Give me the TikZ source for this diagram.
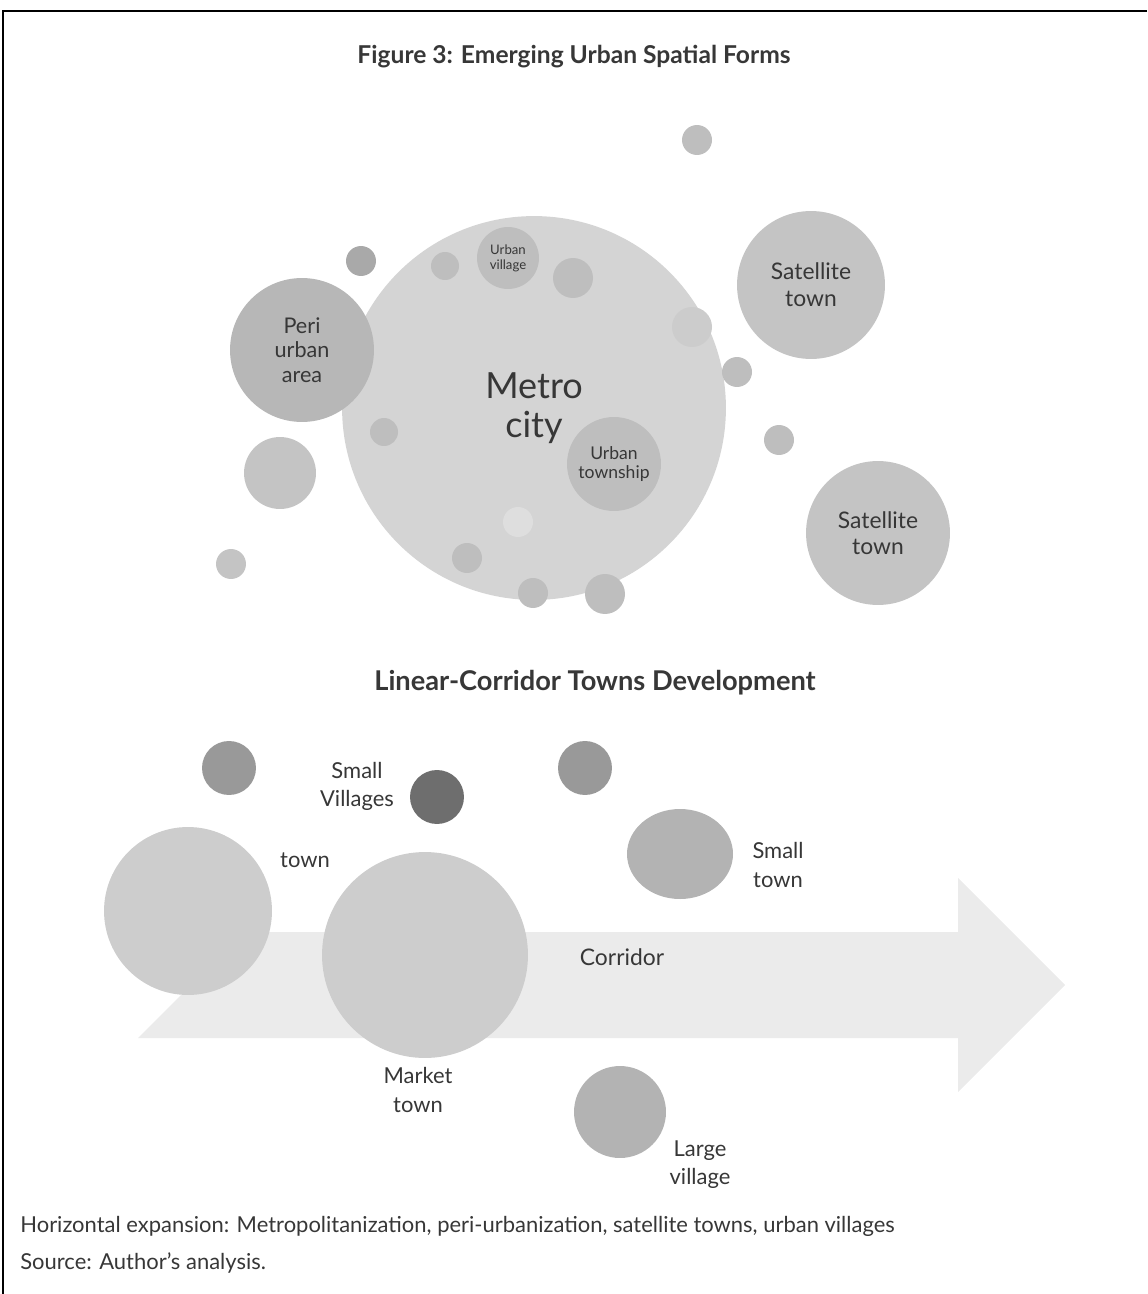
\documentclass[tikz,border=0pt]{standalone}
\usepackage{fontspec}
\setmainfont{Lato}
\usetikzlibrary{shapes.geometric}

\definecolor{txt}{RGB}{55,55,55}
\definecolor{metrogray}{RGB}{212,212,212}
\definecolor{perigray}{RGB}{183,183,183}
\definecolor{satgray}{RGB}{196,196,196}
\definecolor{midgray}{RGB}{190,190,190}
\definecolor{edgegray}{RGB}{204,204,204}
\definecolor{palegray}{RGB}{222,222,222}
\definecolor{darkgray}{RGB}{169,169,169}
\definecolor{corridorgray}{RGB}{235,235,235}
\definecolor{towngray}{RGB}{205,205,205}
\definecolor{villagegray}{RGB}{153,153,153}
\definecolor{deepgray}{RGB}{110,110,110}
\definecolor{smallgray}{RGB}{179,179,179}

\begin{document}
\begin{tikzpicture}[x=0.02cm, y=-0.02cm,
	blob/.style={circle, inner sep=0pt, minimum size=#1*0.04cm, text=txt, align=center},
	lbl/.style={text=txt, align=center, font=\fontsize{12.5}{16}\selectfont}]

		\useasboundingbox (0,0) rectangle (1147,1294);

		% Frame
		\draw[line width=1.4pt] (1147,11) -- (3,11) -- (3,1294);

		% Titles
		\node[text=txt, font=\bfseries\fontsize{14}{17}\selectfont] (title) at (574,57) {Figure 3: Emerging Urban Spatial Forms};
		\node[text=txt, font=\bfseries\fontsize{15.5}{18}\selectfont] (subtitle) at (595,683) {Linear-Corridor Towns Development};

		% Metro city and its satellites
		\node[blob=192, fill=metrogray, font=\fontsize{20.5}{22}\selectfont] (metro) at (534,408) {Metro\\city};
		\node[blob=31, fill=midgray, font=\fontsize{7.5}{8.5}\selectfont] (village) at (508,258) {Urban\\village};
		\node[blob=14, fill=midgray] (m1) at (445,266) {};
		\node[blob=20, fill=midgray] (m2) at (573,278) {};
		\node[blob=15, fill=darkgray] (m3) at (361,261) {};
		\node[blob=15, fill=midgray] (m4) at (697,140) {};
		\node[blob=74, fill=satgray, font=\fontsize{13}{15.3}\selectfont] (sat1) at (811,285) {Satellite\\town};
		\node[blob=20, fill=edgegray] (m5) at (692,327) {};
		\node[blob=15, fill=midgray] (m6) at (737,372) {};
		\node[blob=72, fill=perigray, font=\fontsize{12.3}{14}\selectfont] (peri) at (302,350) {Peri\\urban\\area};
		\node[blob=14, fill=midgray] (m7) at (384,432) {};
		\node[blob=47, fill=midgray, font=\fontsize{10}{10.8}\selectfont] (township) at (614,464) {Urban\\township};
		\node[blob=15, fill=midgray] (m8) at (779,440) {};
		\node[blob=72, fill=satgray, font=\fontsize{13}{15}\selectfont] (sat2) at (878,533) {Satellite\\town};
		\node[blob=36, fill=satgray] (m9) at (280,473) {};
		\node[blob=15, fill=satgray] (m10) at (231,564) {};
		\node[blob=15, fill=palegray] (m11) at (518,522) {};
		\node[blob=15, fill=midgray] (m12) at (467,558) {};
		\node[blob=15, fill=midgray] (m13) at (533,593) {};
		\node[blob=20, fill=midgray] (m14) at (605,594) {};

		% Corridor
		\fill[corridorgray] (138,1038) -- (244,932) -- (958,932) -- (958,878) -- (1065,985)
			-- (958,1092) -- (958,1038) -- cycle;
		\node[lbl, font=\fontsize{13}{16}\selectfont] (corridor) at (622,957) {Corridor};

		% Towns along the corridor
		\node[blob=84, fill=towngray] (town) at (188,911) {};
		\node[blob=103, fill=towngray] (market) at (425,955) {};
		\node[blob=27, fill=villagegray] (v1) at (229,768) {};
		\node[blob=27, fill=deepgray] (v2) at (437,797) {};
		\node[blob=27, fill=villagegray] (v3) at (585,768) {};
		\node[ellipse, inner sep=0pt, minimum width=106*0.02cm, minimum height=90*0.02cm, fill=smallgray] (smalltown) at (680,854) {};
		\node[blob=46, fill=smallgray] (large) at (620,1112) {};

		% Labels
		\node[lbl] (townlbl) at (305,860) {town};
		\node[lbl] (villagelbl) at (357,786) {Small\\Villages};
		\node[lbl] (smalltownlbl) at (778,865) {Small\\town};
		\node[lbl] (marketlbl) at (418,1090) {Market\\town};
		\node[lbl] (largelbl) at (700,1165) {Large\\village};

		% Notes
		\node[text=txt, anchor=base west, inner sep=0pt, font=\fontsize{12.5}{14}\selectfont] (note) at (20,1232) {Horizontal expansion: Metropolitanization, peri-urbanization, satellite towns, urban villages};
		\node[text=txt, anchor=base west, inner sep=0pt, font=\fontsize{12.5}{14}\selectfont] (source) at (20,1269) {Source: Author’s analysis.};

	\end{tikzpicture}
\end{document}
